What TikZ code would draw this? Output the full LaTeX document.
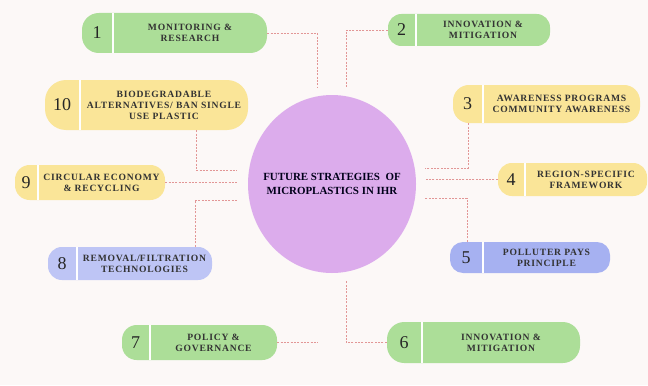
\documentclass[tikz,border=0pt]{standalone}
\usepackage{fontspec}
\setmainfont{Liberation Serif}
\newfontfamily\spacedfont[LetterSpace=8]{Liberation Serif}
\usepackage{xcolor}
\usepackage{tikz}
\usetikzlibrary{shapes.geometric}

\definecolor{bgpaper}{RGB}{252,248,247}
\definecolor{leafgreen}{RGB}{172,222,152}
\definecolor{sandyellow}{RGB}{250,229,152}
\definecolor{paleblue}{RGB}{190,197,245}
\definecolor{deepblue}{RGB}{166,177,241}
\definecolor{lilac}{RGB}{220,172,236}
\definecolor{linkred}{RGB}{226,150,150}

\begin{document}
\begin{tikzpicture}[x=0.75pt, y=-0.75pt,
    pill/.style={inner sep=0pt},
    divider/.style={draw=white, line width=1.2pt},
    numlbl/.style={font=\fontsize{13.5}{13.5}\selectfont, text=black!85},
    boxlbl/.style={align=center, font=\spacedfont\bfseries\fontsize{7.2}{8.2}\selectfont, text=black!80},
    link/.style={draw=linkred, line width=0.6pt, dash pattern=on 1.5pt off 1pt}]

  % paper
  \fill[bgpaper] (0,0) rectangle (648,385);

  % centre
  \node[ellipse, fill=lilac, inner sep=0pt, minimum width=168*0.75pt, minimum height=178*0.75pt]
        (core) at (332,184) {};
  \node[align=center, text=black!90!blue, font=\bfseries\fontsize{8.2}{11}\selectfont]
        (corelbl) at (core.center) {FUTURE STRATEGIES~ OF\\MICROPLASTICS IN IHR};

  % strategy boxes: number/cx/cy/width/height/divider/colour/text
  \foreach \idx/\cx/\cy/\bw/\bh/\bd/\bc/\bt in {
      1/174.5/33/185/40/31/leafgreen/{MONITORING \&\\RESEARCH},
      2/469/30/162/32/28/leafgreen/{INNOVATION \&\\MITIGATION},
      3/546.5/104/187/38/30/sandyellow/{AWARENESS PROGRAMS\\COMMUNITY AWARENESS},
      4/572.5/179.5/149/33/27/sandyellow/{REGION-SPECIFIC\\FRAMEWORK},
      5/530/257.5/160/31/33/deepblue/{POLLUTER PAYS\\PRINCIPLE},
      6/483.5/342.5/193/41/35/leafgreen/{INNOVATION \&\\MITIGATION},
      7/199.5/342.5/155/35/28/leafgreen/{POLICY \&\\GOVERNANCE},
      8/130/263.5/164/33/29/paleblue/{REMOVAL\slash FILTRATION\\TECHNOLOGIES},
      9/90/182.5/150/35/23/sandyellow/{CIRCULAR ECONOMY\\\& RECYCLING},
      10/146.5/105/203/50/35/sandyellow/{BIODEGRADABLE\\ALTERNATIVES\slash{} BAN SINGLE\\USE PLASTIC}}{
    \node[pill, fill=\bc, minimum width=\bw*0.75pt, minimum height=\bh*0.75pt,
          rounded corners=0.42*\bh*0.75pt] (b\idx) at (\cx,\cy) {};
    \draw[divider] ([xshift=\bd*0.75pt]b\idx.north west) -- ([xshift=\bd*0.75pt]b\idx.south west);
    \node[numlbl] (n\idx) at ([xshift=\bd*0.375pt]b\idx.west) {\idx};
    \node[boxlbl] (t\idx) at ([xshift=\bd*0.375pt]b\idx.center) {\bt};
  }

  % ends of the links near the centre
  \coordinate (p1) at (317,88);
  \coordinate (p2) at (346,88);
  \coordinate (p3) at (425,168);
  \coordinate (p4) at (425,179.5);
  \coordinate (p5) at (425,198);
  \coordinate (p6) at (346,281);
  \coordinate (p7) at (318,342.5);
  \coordinate (p8) at (237,200);
  \coordinate (p9) at (237,182.5);
  \coordinate (p10) at (237,170);

  % links
  \draw[link] (b1.east) -| (p1);
  \draw[link] (b2.west) -| (p2);
  \draw[link] ([xshift=-78.5*0.75pt]b3.south) |- (p3);
  \draw[link] (b4.west) -- (p4);
  \draw[link] ([xshift=-63*0.75pt]b5.north) |- (p5);
  \draw[link] (b6.west) -| (p6);
  \draw[link] (b7.east) -- (p7);
  \draw[link] ([xshift=65*0.75pt]b8.north) |- (p8);
  \draw[link] (b9.east) -- (p9);
  \draw[link] ([xshift=49.5*0.75pt]b10.south) |- (p10);
\end{tikzpicture}
\end{document}
